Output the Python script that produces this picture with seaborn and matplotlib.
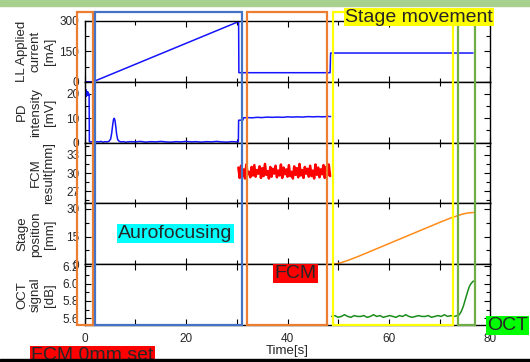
import numpy as np
import matplotlib
matplotlib.use('Agg')
import matplotlib.pyplot as plt
import matplotlib.transforms as mtransforms
from matplotlib.patches import Rectangle
from matplotlib.ticker import MultipleLocator
import seaborn as sns

# LL applied current [mA]
ll_time = [0.0, 1.6, 30.35, 30.4, 48.4, 48.5, 76.6]
ll_ma = [0, 0, 297, 45, 45, 142, 142]

# PD intensity [mV]
pd_time = [0.0, 0.05, 0.1, 0.15, 0.2, 0.25, 0.3, 0.35, 0.4, 0.45, 0.5, 0.55, 0.6, 0.65,
           0.7, 0.75, 0.8, 0.85, 0.9,
           1.2, 1.6, 2.0, 2.4, 2.8, 3.2, 3.6, 4.0, 4.4, 4.8, 5.1, 5.3, 5.5, 5.65, 5.8,
           5.95, 6.1, 6.3, 6.5, 6.8, 7.2, 7.6, 8.0,
           9, 10, 11, 12, 13, 14, 15, 16, 17, 18, 19, 20, 21, 22, 23, 24, 25, 26, 27,
           28, 29, 30, 30.3,
           30.35, 31.2, 31.3, 32, 33, 34, 35, 36, 37, 38, 39, 40, 41, 42, 43, 44, 45,
           46, 47, 48, 48.5]
pd_mv = [19.5, 21.0, 20.0, 22.0, 19.0, 21.5, 20.5, 19.2, 21.0, 20.2, 19.8, 20.6, 19.5, 20.8,
         20.1, 19.6, 20.0, 19.8, 0.4,
         0.3, 0.5, 0.2, 0.4, 0.3, 0.5, 0.2, 0.4, 0.3, 0.6, 1.5, 3.8, 7.2, 9.4, 10.0,
         9.2, 6.8, 3.2, 1.2, 0.5, 0.3, 0.4, 0.2,
         0.4, 0.3, 0.5, 0.2, 0.4, 0.3, 0.5, 0.3, 0.2, 0.4, 0.3, 0.5, 0.3, 0.4, 0.2,
         0.4, 0.3, 0.5, 0.3, 0.2, 0.4, 0.3, 0.3,
         9.2, 9.3, 10.2, 10.3, 10.2, 10.4, 10.3, 10.5, 10.4, 10.5, 10.4, 10.6, 10.5,
         10.6, 10.5, 10.7, 10.6, 10.7, 10.6, 10.8, 10.7]

# FCM result [mm], sampled evenly between start and end
fcm_start, fcm_end = 30.3, 48.4
fcm_mm = [30.9, 29.2, 31.2, 29.5, 30.6, 29.1, 31.4, 29.8, 30.2, 29.3, 31.0, 29.6, 31.3, 29.4,
          30.5, 29.9, 31.1, 29.2, 30.8, 29.5, 31.5, 29.7, 30.3, 29.1, 31.0, 29.4, 30.7, 29.9,
          31.2, 29.3, 30.4, 29.6, 31.4, 29.2, 30.9, 29.8, 30.6, 29.4, 31.3, 29.5, 30.2, 29.1,
          31.1, 29.7, 30.8, 29.3, 31.5, 29.6, 30.5, 29.2, 31.0, 29.9, 30.7, 29.4, 31.2, 29.5,
          30.4, 29.1, 31.4, 29.7, 30.9, 29.3, 30.6, 29.8, 31.3, 29.2, 31.0, 29.6, 31.4, 29.5]

# Stage position [mm]
stage_time = [48.8, 49.5, 50.5, 51.5, 52.5, 54, 56, 58, 60, 62, 64, 66, 68, 70, 72,
              73.5, 74.5, 75.5, 76.7]
stage_mm = [0.0, 0.2, 0.8, 1.7, 2.7, 4.3, 6.6, 8.9, 11.2, 13.5, 15.8, 18.1, 20.4, 22.7,
            24.9, 26.3, 27.2, 27.8, 28.1]

# OCT signal [dB]: flat part sampled evenly, then the rise
oct_start, oct_end = 48.7, 73.5
oct_flat_db = [5.62, 5.63, 5.61, 5.62, 5.64, 5.62, 5.61, 5.63, 5.62, 5.62, 5.63, 5.61, 5.62,
               5.64, 5.62, 5.63, 5.61, 5.62, 5.63, 5.62, 5.61, 5.63, 5.62, 5.64, 5.62, 5.61,
               5.62, 5.63, 5.62, 5.62, 5.63, 5.61, 5.62, 5.63, 5.62, 5.64, 5.62, 5.63, 5.62,
               5.63]
oct_rise_time = [73.9, 74.3, 74.7, 75.0, 75.3, 75.6, 75.9, 76.2, 76.5, 76.7]
oct_rise_db = [5.64, 5.68, 5.74, 5.80, 5.86, 5.92, 5.97, 6.00, 6.02, 6.03]

# phases (time spans of the outlined boxes)
phase_start = [-1.6, 2.1, 32.1, 49.0, 73.7]
phase_end = [1.6, 31.0, 47.8, 72.6, 76.9]
phase_color = ['#ed7d31', '#4472c4', '#ed7d31', '#ffff00', '#70ad47']

fcm_time = np.linspace(fcm_start, fcm_end, len(fcm_mm))
oct_time = list(np.linspace(oct_start, oct_end, len(oct_flat_db))) + oct_rise_time
oct_db = oct_flat_db + oct_rise_db

sns.set_style('ticks')
plt.rcParams['font.family'] = ['Liberation Sans', 'DejaVu Sans']

fig, axes = plt.subplots(5, 1, sharex=True, figsize=(5.3, 3.62), dpi=100)
fig.subplots_adjust(left=0.160, right=0.925, top=0.942, bottom=0.102, hspace=0)

panels = [
    (ll_time, ll_ma, '#1414ff', 1.1, (0, 300), [0, 150, 300], 75, 'LL Applied\ncurrent\n[mA]'),
    (pd_time, pd_mv, '#1414ff', 1.1, (0, 25), [0, 10, 20], 5, 'PD\nintensity\n[mV]'),
    (fcm_time, fcm_mm, '#ff0000', 1.8, (25, 35), [27, 30, 33], 1.5, 'FCM\nresult[mm]'),
    (stage_time, stage_mm, '#ff8c1a', 1.1, (0, 33), [0, 15, 30], 7.5, 'Stage\nposition\n[mm]'),
    (oct_time, oct_db, '#1a8c1a', 1.1, (5.52, 6.225), [5.6, 5.8, 6.0, 6.2], 0.1, 'OCT\nsignal\n[dB]'),
]

for ax, (x, y, color, lw, ylim, yticks, minor, label) in zip(axes, panels):
    sns.lineplot(x=x, y=y, ax=ax, color=color, lw=lw, estimator=None, sort=False)
    ax.set_ylim(*ylim)
    ax.set_yticks(yticks)
    ax.yaxis.set_minor_locator(MultipleLocator(minor))
    ax.tick_params(which='both', direction='in', top=True, right=True, labelsize=8.5,
                   width=0.8, color='black', pad=4)
    ax.tick_params(which='major', length=4)
    ax.tick_params(which='minor', length=3)
    ax.set_ylabel(label, fontsize=9.5, linespacing=1.2)
    ax.yaxis.set_label_coords(-0.072, 0.5)
    for s in ax.spines.values():
        s.set_color('black')
        s.set_linewidth(1)

axes[-1].set_xlim(0, 80)
axes[-1].xaxis.set_major_locator(MultipleLocator(20))
axes[-1].xaxis.set_minor_locator(MultipleLocator(10))
axes[-1].tick_params(axis='x', which='both', length=4, pad=6)
axes[-1].set_xlabel('Time[s]', fontsize=9.5, labelpad=0)

# phase boxes: x in data, y in figure
blend = mtransforms.blended_transform_factory(axes[0].transData, fig.transFigure)
for x0, x1, c in zip(phase_start, phase_end, phase_color):
    fig.add_artist(Rectangle((x0, 0.102), x1 - x0, 0.865, transform=blend, fill=False,
                             ec=c, lw=1.6, zorder=5))

# decorations
fig.add_artist(Rectangle((0, 1 - 5.5 / 362), 1, 5.5 / 362, transform=fig.transFigure,
                         color='#a9d18e', zorder=6))

labels = [
    ('Stage movement', 0.790, 0.953, '#ffff00'),
    ('Aurofocusing', 0.331, 0.354, '#00ffff'),
    ('FCM', 0.5575, 0.2445, '#ff0000'),
    ('FCM 0mm set', 0.1745, 0.018, '#ff0000'),
    ('OCT', 0.957, 0.102, '#00ff00'),
]
for txt, x, y, c in labels:
    fig.text(x, y, txt, fontsize=14, ha='center', va='center', zorder=7,
             bbox=dict(boxstyle='square,pad=0.05', fc=c, ec='none'))

fig.add_artist(Rectangle((0, 0), 1, 3.2 / 362, transform=fig.transFigure,
                         color='black', zorder=8))

fig.savefig('out.png', dpi=100)
